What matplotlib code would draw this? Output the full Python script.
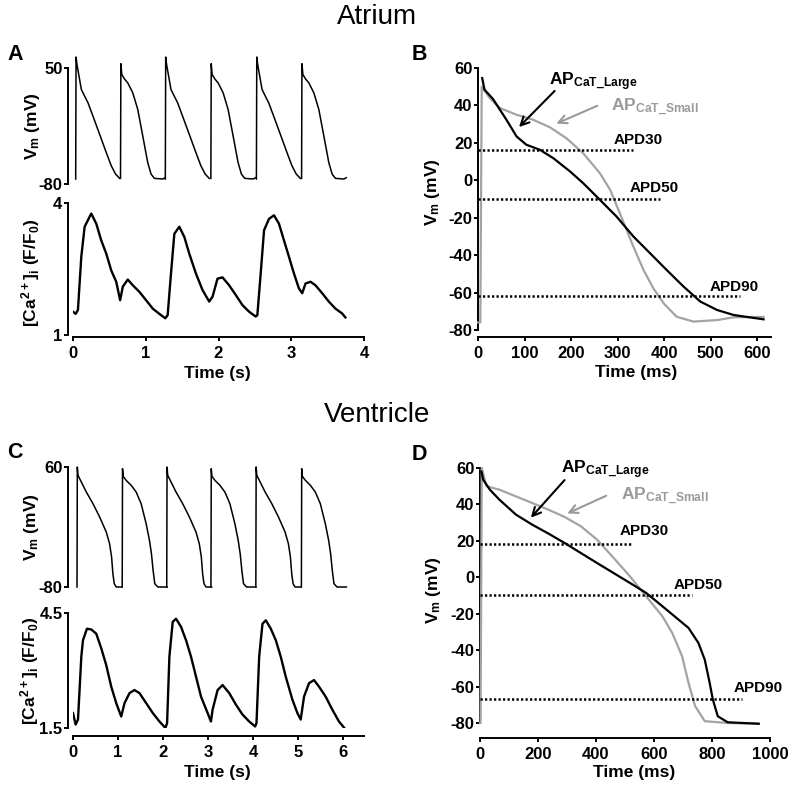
import matplotlib
matplotlib.use("Agg")
from matplotlib import pyplot as plt
import numpy as np

plt.rcParams["font.family"] = ["Liberation Sans", "DejaVu Sans"]
plt.rcParams["font.weight"] = "bold"
plt.rcParams["mathtext.fontset"] = "custom"
plt.rcParams["mathtext.bf"] = "Liberation Sans:bold"
plt.rcParams["mathtext.rm"] = "Liberation Sans:bold"
plt.rcParams["mathtext.default"] = "bf"
plt.rcParams["axes.unicode_minus"] = False

GRAY = "#a3a3a3"
GRAY_TXT = "#9a9a9a"

# %% atrium: membrane potential, two alternating beat shapes (s from upstroke, mV)
atr_big_t = [0, 0.005, 0.018, 0.046, 0.078, 0.123, 0.169, 0.237, 0.329, 0.42, 0.489, 0.548, 0.603]
atr_big_v = [-74.4, 62.3, 53.7, 40.7, 25.9, 18.4, 11.0, -3.9, -24.3, -44.7, -59.6, -68.9, -73.7]
atr_small_t = [0, 0.005, 0.018, 0.055, 0.1, 0.169, 0.237, 0.306, 0.374, 0.42, 0.466, 0.58, 0.614]
atr_small_v = [-73.7, 54.8, 42.6, 37.7, 33.3, 22.1, 3.6, -26.2, -55.9, -68.9, -73.7, -74.4, -73.0]
atr_onsets = [0.037, 0.653, 1.269, 1.895, 2.521, 3.142]

# atrium: calcium transient (s, F/F0)
atr_ca_t = [0.0, 0.037, 0.068, 0.114, 0.160, 0.205, 0.251, 0.320, 0.388, 0.457, 0.525, 0.594,
            0.648, 0.685, 0.753, 0.822, 0.913, 1.005, 1.096, 1.187, 1.269, 1.301, 1.347, 1.393,
            1.461, 1.530, 1.598, 1.689, 1.781, 1.872, 1.918, 1.986, 2.055, 2.146, 2.237, 2.329,
            2.420, 2.511, 2.534, 2.580, 2.626, 2.694, 2.763, 2.831, 2.900, 2.968, 3.037, 3.105,
            3.151, 3.196, 3.265, 3.333, 3.425, 3.516, 3.607, 3.699, 3.744]
atr_ca = [1.53, 1.48, 1.57, 2.78, 3.46, 3.61, 3.76, 3.53, 3.15, 2.85, 2.47, 2.21,
          1.79, 2.10, 2.26, 2.13, 1.98, 1.79, 1.60, 1.48, 1.38, 1.45, 2.40, 3.30,
          3.46, 3.23, 2.85, 2.40, 2.02, 1.76, 1.87, 2.28, 2.31, 2.13, 1.91, 1.68,
          1.53, 1.42, 1.45, 2.40, 3.38, 3.64, 3.72, 3.53, 3.15, 2.78, 2.40, 2.06,
          1.95, 2.17, 2.21, 2.13, 1.95, 1.76, 1.60, 1.49, 1.40]

# atrium: single APs (ms, mV)
atr_large_t = [9, 14, 32, 61, 83, 104, 133, 162, 198, 226, 262, 298, 334, 370, 406, 442, 478, 514, 550, 614]
atr_large_v = [54.6, 48.4, 43.5, 32.4, 23.4, 19.0, 16.3, 11.8, 4.7, -1.5, -10.4, -19.4, -30.0, -39.0,
               -48.0, -56.8, -64.8, -69.3, -72.0, -74.3]
atr_sm_t = [0, 5, 8, 25, 47, 83, 118, 154, 190, 226, 262, 284, 305, 334, 356, 377, 399, 427, 463, 514, 550, 614]
atr_sm_v = [-76, -76, 50, 44, 38.6, 35, 32.4, 28.4, 22.5, 14.5, 3.8, -5, -17.6, -35.4, -48, -57.7, -65.7,
            -72.9, -75.5, -74.7, -73.2, -73]
atr_apd_v = [16.3, -10, -62]
atr_apd_end = [334, 391, 564]
atr_apd_lab = [(291, 19.5), (327, -6), (498, -59)]

# %% ventricle: membrane potential beat shapes (s from upstroke, mV)
ven_big_t = [0, 0.007, 0.022, 0.096, 0.207, 0.355, 0.503, 0.65, 0.724, 0.769, 0.798, 0.828, 0.872, 0.998]
ven_big_v = [-80, 60, 50.3, 42.5, 30.8, 17.2, 1.7, -15.8, -29.5, -45, -64.5, -76.1, -80, -80]
ven_small_t = [0, 0.007, 0.022, 0.089, 0.2, 0.31, 0.421, 0.532, 0.606, 0.65, 0.687, 0.724, 0.791, 1.0]
ven_small_v = [-80, 58, 49.1, 44.4, 38.6, 30.8, 17.2, -6.1, -25.6, -41.1, -60.6, -76.1, -80, -80]
ven_onsets = [0.089, 1.094, 2.084, 3.067, 4.065, 5.078]

ven_ca_t = [0.0, 0.059, 0.111, 0.185, 0.222, 0.310, 0.407, 0.517, 0.628, 0.739, 0.850, 0.961,
            1.072, 1.146, 1.256, 1.367, 1.478, 1.626, 1.774, 1.922, 2.055, 2.092, 2.143, 2.217,
            2.291, 2.402, 2.513, 2.624, 2.735, 2.846, 2.993, 3.067, 3.104, 3.215, 3.326, 3.474,
            3.622, 3.769, 3.917, 4.050, 4.080, 4.139, 4.213, 4.287, 4.398, 4.509, 4.619, 4.730,
            4.878, 4.989, 5.063, 5.137, 5.248, 5.359, 5.469, 5.617, 5.765, 5.913, 6.061]
ven_ca = [1.89, 1.59, 1.72, 3.36, 3.79, 4.09, 4.07, 3.96, 3.58, 3.14, 2.58, 2.15,
          1.80, 2.15, 2.41, 2.49, 2.41, 2.15, 1.89, 1.67, 1.50, 1.63, 3.36, 4.27,
          4.35, 4.14, 3.79, 3.36, 2.84, 2.32, 1.89, 1.67, 1.98, 2.49, 2.62, 2.41,
          2.11, 1.85, 1.67, 1.54, 1.63, 3.36, 4.22, 4.31, 4.09, 3.79, 3.36, 2.84,
          2.24, 1.89, 1.72, 2.32, 2.67, 2.75, 2.58, 2.32, 1.98, 1.67, 1.46]

ven_large_t = [5, 11, 34, 67, 124, 180, 236, 292, 348, 404, 461, 517, 573, 629, 685, 719, 753, 775,
               792, 803, 820, 854, 961]
ven_large_v = [58, 53.6, 48.1, 42.6, 34.4, 28.9, 24, 18.8, 13.3, 7.8, 2.3, -3.1, -8.6, -15.9, -23.3,
               -27.8, -36, -45.2, -58, -67.2, -76.3, -79.6, -80.4]
ven_sm_t = [0, 2, 6, 22, 67, 124, 180, 236, 292, 348, 404, 461, 517, 573, 629, 663, 697, 719, 742, 775,
            854, 961]
ven_sm_v = [-80, -80, 60, 50, 48.1, 44.4, 40.8, 37.1, 33.1, 28, 20.6, 10.6, 0.5, -10.5, -21.4, -30.6,
            -43.4, -58, -70.8, -79, -80, -80.4]
ven_apd_v = [18.5, -9.7, -66.7]
ven_apd_end = [522, 730, 904]
ven_apd_lab = [(481, 23.4), (669, -6.4), (876, -63.2)]

# %%
W, H = 800, 789
fig = plt.figure(figsize=(W / 100, H / 100), dpi=100)


def axes_px(x0, x1, ytop, ybot):
    return fig.add_axes([x0 / W, 1 - ybot / H, (x1 - x0) / W, (ybot - ytop) / H])


def prism(ax, left_out=0, bottom_out=0, bottom=True):
    for s in ["top", "right"]:
        ax.spines[s].set_visible(False)
    for s in ["left", "bottom"]:
        ax.spines[s].set_linewidth(1.4)
    ax.spines["left"].set_position(("outward", left_out))
    ax.spines["bottom"].set_position(("outward", bottom_out))
    ax.tick_params(direction="out", length=2.8, width=1.4, labelsize=12)
    ax.tick_params(axis="y", pad=1.2)
    ax.tick_params(axis="x", pad=3.5)
    if not bottom:
        ax.spines["bottom"].set_visible(False)
        ax.set_xticks([])
    for lab in ax.get_xticklabels() + ax.get_yticklabels():
        lab.set_fontweight("bold")


def beats(ax, onsets, big_t, big_v, small_t, small_v):
    for i, t0 in enumerate(onsets):
        tt, vv = (big_t, big_v) if i % 2 == 0 else (small_t, small_v)
        ax.plot(np.array(tt) + t0, vv, color="black", lw=1.1, clip_on=False)


# panel A
axA1 = axes_px(73, 364, 68, 184)
beats(axA1, atr_onsets, atr_big_t, atr_big_v, atr_small_t, atr_small_v)
axA1.set_xlim(0, 4)
axA1.set_ylim(-80, 50)
axA1.set_yticks([-80, 50])
axA1.spines["left"].set_bounds(-80, 50)
prism(axA1, left_out=3.6, bottom=False)
axA1.set_ylabel("V$_m$ (mV)", fontsize=12.5, fontweight="bold")
axA1.yaxis.set_label_coords(-0.105, 0.5)

axA2 = axes_px(73, 364, 203, 335)
axA2.plot(atr_ca_t, atr_ca, color="black", lw=1.7)
axA2.set_xlim(0, 4)
axA2.set_ylim(1, 4)
axA2.set_yticks([1, 4])
axA2.set_xticks([0, 1, 2, 3, 4])
prism(axA2, left_out=3.6, bottom_out=1.5)
axA2.set_ylabel("[Ca$^{2+}$]$_i$ (F/F$_0$)", fontsize=12.5, fontweight="bold")
axA2.yaxis.set_label_coords(-0.105, 0.47)
axA2.set_xlabel("Time (s)", fontsize=12.5, fontweight="bold")
axA2.xaxis.set_label_coords(0.497, -0.235)


def ap_panel(ax, lt, lv, st, sv, apd_v, apd_end, apd_lab, xmax, xticks, bout, ann):
    ax.plot(st, sv, color=GRAY, lw=1.6, clip_on=False, zorder=3)
    ax.plot(lt, lv, color="black", lw=1.6, clip_on=False, zorder=4)
    names = ["APD30", "APD50", "APD90"]
    for v, e, (tx, ty), n in zip(apd_v, apd_end, apd_lab, names):
        ax.plot([0, e], [v, v], color="black", lw=1.8, ls=(0, (0.9, 0.9)), zorder=5)
        ax.text(tx, ty, n, fontsize=11, fontweight="bold", va="baseline", ha="left")
    (l_txt, l_from, l_to), (s_txt, s_from, s_to) = ann
    ax.text(l_txt[0], l_txt[1], "AP$_{CaT\\_Large}$", fontsize=12.5, va="baseline", ha="left")
    ax.text(s_txt[0], s_txt[1], "AP$_{CaT\\_Small}$", fontsize=12.5, va="baseline", ha="left",
            color=GRAY_TXT)
    ax.annotate("", xy=l_to, xytext=l_from,
                arrowprops=dict(arrowstyle="->,head_length=0.6,head_width=0.3", color="black", lw=1.5))
    ax.annotate("", xy=s_to, xytext=s_from,
                arrowprops=dict(arrowstyle="->,head_length=0.6,head_width=0.3", color=GRAY_TXT, lw=1.5))
    ax.set_xlim(0, xmax)
    ax.set_ylim(-80, 60)
    ax.set_xticks(xticks)
    ax.set_yticks(range(-80, 61, 20))
    ax.spines["left"].set_bounds(-80, 60)
    prism(ax, left_out=0, bottom_out=bout)
    ax.set_ylabel("V$_m$ (mV)", fontsize=12.5, fontweight="bold")
    ax.set_xlabel("Time (ms)", fontsize=12.5, fontweight="bold")


# panel B
axB = axes_px(478, 771, 68, 330)
ap_panel(axB, atr_large_t, atr_large_v, atr_sm_t, atr_sm_v, atr_apd_v, atr_apd_end, atr_apd_lab,
         630, range(0, 601, 100), 5,
         [((153, 51), (169, 48.8), (84, 27.4)), ((287, 36.8), (262, 40.4), (163, 29.7))])
axB.yaxis.set_label_coords(-0.123, 0.527)
axB.xaxis.set_label_coords(0.539, -0.135)

# panel C
axC1 = axes_px(73, 364, 467, 587)
beats(axC1, ven_onsets, ven_big_t, ven_big_v, ven_small_t, ven_small_v)
axC1.set_xlim(0, 6.47)
axC1.set_ylim(-80, 60)
axC1.set_yticks([-80, 60])
axC1.spines["left"].set_bounds(-80, 60)
prism(axC1, left_out=3.6, bottom=False)
axC1.set_ylabel("V$_m$ (mV)", fontsize=12.5, fontweight="bold")
axC1.yaxis.set_label_coords(-0.11, 0.5)

axC2 = axes_px(73, 364, 613, 728)
axC2.plot(ven_ca_t, ven_ca, color="black", lw=1.7)
axC2.set_xlim(0, 6.47)
axC2.set_ylim(1.5, 4.5)
axC2.set_yticks([1.5, 4.5])
axC2.set_yticklabels(["1.5", "4.5"])
axC2.set_xticks(range(0, 7))
prism(axC2, left_out=3.6, bottom_out=6)
axC2.set_ylabel("[Ca$^{2+}$]$_i$ (F/F$_0$)", fontsize=12.5, fontweight="bold")
axC2.yaxis.set_label_coords(-0.11, 0.5)
axC2.set_xlabel("Time (s)", fontsize=12.5, fontweight="bold")
axC2.xaxis.set_label_coords(0.497, -0.32)

# panel D
axD = axes_px(480, 770, 468, 723)
ap_panel(axD, ven_large_t, ven_large_v, ven_sm_t, ven_sm_v, ven_apd_v, ven_apd_end, ven_apd_lab,
         1000, range(0, 1001, 200), 10.8,
         [((278, 56.9), (298, 54.5), (169, 31.6)), ((485, 42.2), (444, 45.4), (292, 34.4))])
axD.yaxis.set_label_coords(-0.128, 0.52)
axD.xaxis.set_label_coords(0.531, -0.163)

# titles and panel letters
fig.text(377 / W, 1 - 17 / H, "Atrium", fontsize=20, fontweight="normal", ha="center", va="center")
fig.text(377 / W, 1 - 415 / H, "Ventricle", fontsize=20, fontweight="normal", ha="center", va="center")
for lx, ly, letter in [(7, 55, "A"), (412, 55, "B"), (7, 453, "C"), (412, 455, "D")]:
    fig.text(lx / W, 1 - ly / H, letter, fontsize=15.5, fontweight="bold", ha="left", va="center")

plt.savefig("out.png", dpi=100)
